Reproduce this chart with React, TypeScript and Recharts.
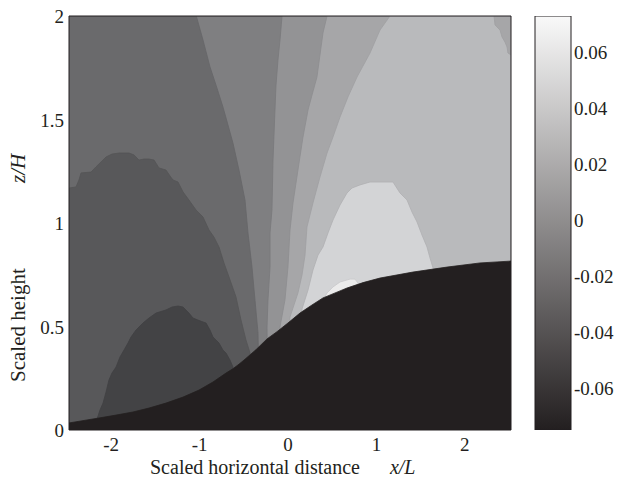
import React from 'react';
import { ComposedChart, Scatter, Bar, XAxis, YAxis } from 'recharts';

const FONT = '"Liberation Serif", "Times New Roman", Times, serif';
const INK = '#231f20';

const xTicks = [-2, -1, 0, 1, 2];
const zTicks = [0, 0.5, 1, 1.5, 2];
const cbTicks = [-0.06, -0.04, -0.02, 0, 0.02, 0.04, 0.06];
const xDomain: [number, number] = [-2.5, 2.5];
const zDomain: [number, number] = [0, 2];
const cbDomain: [number, number] = [-0.075, 0.073];
const cbData = [{ name: 'cb', range: [-0.075, 0.073] }];

// contour regions, [x/L, z/H]
const bgA = [[-2.5, 0], [-2.5, 2], [2.5, 2], [2.5, 0]];
const bandD = [[-1.06, 2.0], [-0.984, 1.884], [-0.905, 1.754], [-0.826, 1.652], [-0.758, 1.56], [-0.701, 1.473], [-0.645, 1.386], [-0.577, 1.256], [-0.509, 1.111], [-0.475, 0.952], [-0.43, 0.787], [-0.396, 0.628], [-0.362, 0.469], [-0.34, 0], [2.5, 0], [2.5, 2]];
const bandE = [[-0.09, 2.0], [-0.113, 1.884], [-0.136, 1.787], [-0.158, 1.667], [-0.17, 1.546], [-0.181, 1.425], [-0.192, 1.304], [-0.204, 1.063], [-0.226, 0.952], [-0.226, 0.787], [-0.249, 0.628], [-0.26, 0.498], [-0.25, 0], [2.5, 0], [2.5, 2]];
const bandF = [[0.419, 2.0], [0.373, 1.918], [0.339, 1.812], [0.305, 1.705], [0.249, 1.618], [0.204, 1.546], [0.147, 1.415], [0.09, 1.256], [0.034, 1.097], [0.0, 0.966], [-0.023, 0.787], [-0.057, 0.628], [-0.113, 0.498], [-0.14, 0], [2.5, 0], [2.5, 2]];
const bandG = [[1.131, 2.0], [1.018, 1.932], [0.905, 1.821], [0.758, 1.705], [0.656, 1.609], [0.566, 1.512], [0.486, 1.415], [0.419, 1.338], [0.339, 1.222], [0.26, 1.097], [0.192, 0.981], [0.17, 0.845], [0.136, 0.749], [0.09, 0.662], [0.0, 0.546], [-0.05, 0], [2.5, 0], [2.5, 2]];
const cornerF = [[2.308, 2.0], [2.319, 1.957], [2.376, 1.932], [2.398, 1.899], [2.432, 1.874], [2.455, 1.85], [2.466, 1.821], [2.5, 1.812], [2.5, 2.0]];
const blobH = [[0.136, 0.585], [0.204, 0.676], [0.26, 0.773], [0.317, 0.845], [0.373, 0.884], [0.43, 0.952], [0.486, 1.014], [0.566, 1.087], [0.645, 1.145], [0.701, 1.169], [0.792, 1.184], [0.905, 1.198], [1.165, 1.198], [1.244, 1.145], [1.324, 1.111], [1.38, 1.053], [1.437, 1.005], [1.493, 0.942], [1.55, 0.884], [1.584, 0.831], [1.618, 0.783], [1.62, 0.5], [0.14, 0.4]];
const spotI = [[0.396, 0.643], [0.419, 0.662], [0.486, 0.691], [0.566, 0.715], [0.679, 0.729], [0.735, 0.729], [0.769, 0.71], [0.78, 0.6], [0.39, 0.55]];
const regionB = [[-2.5, 1.169], [-2.421, 1.174], [-2.387, 1.208], [-2.364, 1.242], [-2.251, 1.246], [-2.195, 1.271], [-2.138, 1.295], [-2.081, 1.319], [-2.014, 1.333], [-1.934, 1.338], [-1.821, 1.338], [-1.765, 1.329], [-1.708, 1.304], [-1.652, 1.309], [-1.595, 1.309], [-1.538, 1.304], [-1.482, 1.266], [-1.403, 1.256], [-1.357, 1.227], [-1.324, 1.208], [-1.267, 1.198], [-1.21, 1.15], [-1.143, 1.111], [-1.063, 1.063], [-0.984, 1.029], [-0.916, 0.966], [-0.86, 0.932], [-0.803, 0.884], [-0.747, 0.807], [-0.69, 0.739], [-0.611, 0.643], [-0.554, 0.531], [-0.498, 0.435], [-0.452, 0.372], [-0.44, 0], [-2.5, 0]];
const regionC = [[-2.183, 0.053], [-2.149, 0.097], [-2.115, 0.13], [-2.081, 0.184], [-2.048, 0.242], [-2.014, 0.275], [-1.968, 0.304], [-1.923, 0.353], [-1.878, 0.386], [-1.833, 0.42], [-1.799, 0.449], [-1.742, 0.483], [-1.663, 0.517], [-1.595, 0.541], [-1.516, 0.565], [-1.403, 0.58], [-1.335, 0.594], [-1.267, 0.599], [-1.21, 0.594], [-1.143, 0.565], [-1.097, 0.541], [-1.041, 0.531], [-0.984, 0.522], [-0.95, 0.517], [-0.905, 0.483], [-0.871, 0.449], [-0.837, 0.435], [-0.803, 0.42], [-0.758, 0.386], [-0.724, 0.372], [-0.679, 0.338], [-0.645, 0.304], [-0.62, 0.2], [-0.62, 0], [-2.19, 0]];
const hill = [[-2.5, 0.034], [-2.16, 0.058], [-1.968, 0.072], [-1.776, 0.087], [-1.595, 0.106], [-1.403, 0.13], [-1.21, 0.159], [-1.029, 0.193], [-0.871, 0.232], [-0.724, 0.275], [-0.645, 0.296], [-0.577, 0.318], [-0.509, 0.342], [-0.38, 0.39], [-0.26, 0.44], [-0.147, 0.475], [-0.023, 0.517], [0.113, 0.565], [0.249, 0.604], [0.373, 0.638], [0.566, 0.672], [0.645, 0.686], [0.826, 0.712], [1.018, 0.734], [1.391, 0.763], [1.776, 0.787], [2.149, 0.807], [2.5, 0.816], [2.5, 0], [-2.5, 0]];

const toPts = (a: number[][]) => a.map(([x, z]) => ({ x, z }));

const layers = [
  { key: 'A', data: bgA, fill: '#6a6a6c', edge: '#6a6a6c' },
  { key: 'D', data: bandD, fill: '#7f7f81', edge: '#666668' },
  { key: 'E', data: bandE, fill: '#939395', edge: '#79797b' },
  { key: 'F', data: bandF, fill: '#a6a6a8', edge: '#8d8d8f' },
  { key: 'G', data: bandG, fill: '#b9babc', edge: '#a0a0a2' },
  { key: 'F2', data: cornerF, fill: '#a6a6a8', edge: '#a0a0a2' },
  { key: 'H', data: blobH, fill: '#d3d4d6', edge: '#b0b0b2' },
  { key: 'I', data: spotI, fill: '#ebebeb', edge: '#c8c8ca' },
  { key: 'B', data: regionB, fill: '#58585a', edge: '#545456' },
  { key: 'C', data: regionC, fill: '#434345', edge: '#404042' },
  { key: 'hill', data: hill, fill: INK, edge: INK },
];

const Empty = () => <g />;

const makePoly = (fill: string, edge: string) => (p: any) => {
  const arr = ((p && p.points) || []).filter((q: any) => q && Number.isFinite(q.x) && Number.isFinite(q.y));
  if (!arr.length) return <g />;
  const d = arr.map((q: any, i: number) => `${i ? 'L' : 'M'}${q.x.toFixed(2)},${q.y.toFixed(2)}`).join(' ') + ' Z';
  return <path d={d} fill={fill} stroke={edge} strokeWidth={0.8} strokeLinejoin="round" />;
};

const TICK_FS = 19;
const textStyle = { fontFamily: FONT, fontSize: TICK_FS };

const XTick = (p: any) => (
  <text x={p.x - 2} y={p.y} dy={13} textAnchor="middle" fontFamily={FONT} fontSize={TICK_FS} fill={INK} style={textStyle}>
    {String(p.payload && p.payload.value)}
  </text>
);
const YTick = (p: any) => (
  <text x={p.x} y={p.y} dy={7} textAnchor="end" fontFamily={FONT} fontSize={TICK_FS} fill={INK} style={textStyle}>
    {String(p.payload && p.payload.value)}
  </text>
);
const CbTick = (p: any) => (
  <text x={p.x} y={p.y} dy={7} textAnchor="start" fontFamily={FONT} fontSize={TICK_FS} fill={INK} style={textStyle}>
    {String(p.payload && p.payload.value)}
  </text>
);

export default function App() {
  return (
    <div style={{ position: 'absolute', left: 0, top: 0, width: 617, height: 480, background: '#fff', fontFamily: FONT, fontSize: TICK_FS }}>
      <svg width={0} height={0} style={{ position: 'absolute' }}>
        <defs>
          <linearGradient id="cbGrad" x1="0" y1="0" x2="0" y2="1">
            <stop offset="0%" stopColor="#f9f9f9" />
            <stop offset="100%" stopColor="#231f20" />
          </linearGradient>
        </defs>
      </svg>
      <div style={{ position: 'absolute', left: 0, top: 0 }}>
        <ComposedChart width={617} height={480} margin={{ top: 16, right: 106, bottom: 0, left: 0 }} style={{ fontFamily: FONT }}>
          {layers.map((l, i) => (
            <Scatter
              key={l.key}
              data={toPts(l.data)}
              xAxisId="x"
              yAxisId="z"
              line={makePoly(l.fill, l.edge)}
              lineType="joint"
              shape={Empty}
              legendType="none"
              isAnimationActive={false}
              zIndex={10 + i}
            />
          ))}
          <XAxis xAxisId="x" type="number" dataKey="x" domain={xDomain} ticks={xTicks} allowDataOverflow height={50}
            tickLine={false} tickSize={0} tickMargin={8} axisLine={{ stroke: INK }} tick={XTick} />
          <YAxis yAxisId="z" type="number" dataKey="z" domain={zDomain} ticks={zTicks} allowDataOverflow width={69}
            tickLine={false} tickSize={0} tickMargin={5} axisLine={{ stroke: INK }} tick={YTick} />
          <XAxis xAxisId="xb" type="number" domain={xDomain} ticks={xTicks} orientation="bottom" mirror
            tick={false} tickLine={{ stroke: INK }} tickSize={4} axisLine={false} />
          <XAxis xAxisId="xt" type="number" domain={xDomain} ticks={xTicks} orientation="top" mirror
            tick={false} tickLine={{ stroke: INK }} tickSize={4} axisLine={{ stroke: INK }} />
          <YAxis yAxisId="zl" type="number" domain={zDomain} ticks={zTicks} orientation="left" mirror
            tick={false} tickLine={{ stroke: INK }} tickSize={4} axisLine={false} />
          <YAxis yAxisId="zr" type="number" domain={zDomain} ticks={zTicks} orientation="right" mirror
            tick={false} tickLine={{ stroke: INK }} tickSize={4} axisLine={{ stroke: INK }} />
        </ComposedChart>
      </div>
      <div style={{ position: 'absolute', left: 500, top: 0 }}>
        <ComposedChart width={117} height={480} data={cbData} barCategoryGap={0} margin={{ top: 16, right: 0, bottom: 50, left: 35 }} style={{ fontFamily: FONT }}>
          <XAxis xAxisId="c" dataKey="name" type="category" hide />
          <YAxis yAxisId="cb" type="number" orientation="right" domain={cbDomain} ticks={cbTicks} allowDataOverflow width={46}
            tickLine={false} tickSize={0} tickMargin={3} axisLine={false} tick={CbTick} />
          <Bar xAxisId="c" yAxisId="cb" dataKey="range" fill="url(#cbGrad)" stroke={INK} strokeWidth={1} isAnimationActive={false} zIndex={10} />
          <YAxis yAxisId="cbl" type="number" orientation="left" mirror domain={cbDomain} ticks={cbTicks}
            tick={false} tickLine={{ stroke: INK }} tickSize={4} axisLine={false} />
          <YAxis yAxisId="cbr" type="number" orientation="right" mirror domain={cbDomain} ticks={cbTicks}
            tick={false} tickLine={{ stroke: INK }} tickSize={4} axisLine={false} />
        </ComposedChart>
      </div>
      <svg width={617} height={480} style={{ position: 'absolute', left: 0, top: 0, pointerEvents: 'none' }}>
        <text x={150} y={474} fontFamily={FONT} fontSize={20} fill={INK}>
          Scaled horizontal distance<tspan dx={30} fontStyle="italic">x/L</tspan>
        </text>
        <text transform="translate(25,382) rotate(-90)" fontFamily={FONT} fontSize={21} fill={INK}>
          Scaled height
        </text>
        <text transform="translate(25,183) rotate(-90)" fontFamily={FONT} fontSize={21} fontStyle="italic" fill={INK}>
          z/H
        </text>
      </svg>
    </div>
  );
}
